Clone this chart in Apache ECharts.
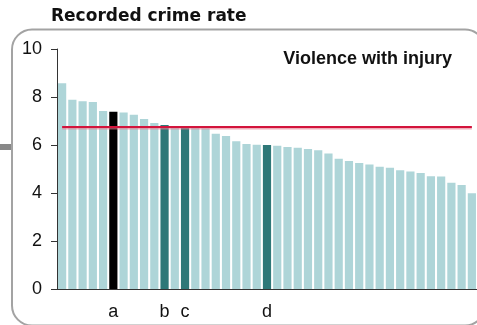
<!DOCTYPE html>
<html>
<head>
<meta charset="utf-8">
<script src="https://cdn.jsdelivr.net/npm/echarts@6/dist/echarts.min.js"></script>
<style>
html,body{margin:0;padding:0;background:#fff;}
#chart{width:477px;height:325px;}
</style>
</head>
<body>
<div id="chart"></div>
<script>
// ---- data ----
const categories = ['1','2','3','4','5','6','7','8','9','10','11','12','13','14','15','16','17','18','19','20','21',
  '22','23','24','25','26','27','28','29','30','31','32','33','34','35','36','37','38','39','40','41'];
const tickLabels = ['','','','','','a','','','','','b','','c','','','','','','','','d',
  '','','','','','','','','','','','','','','','','','','',''];
const rates = [8.57,7.89,7.82,7.79,7.42,7.39,7.35,7.26,7.08,6.92,6.83,6.72,6.72,6.71,6.70,6.47,6.38,6.16,6.04,6.01,6.00,
  5.97,5.92,5.89,5.83,5.78,5.65,5.43,5.33,5.25,5.19,5.09,5.05,4.95,4.90,4.83,4.70,4.69,4.43,4.33,3.99];
const averageRate = 6.76;
const blackBars = [5];
const tealBars = [10,12,20];
const yTicks = [0,2,4,6,8,10];
const chartTitle = 'Recorded crime rate';
const panelTitle = 'Violence with injury';

const barData = rates.map((v,i)=>({
  value: v,
  itemStyle: {color: blackBars.includes(i) ? '#000000' : (tealBars.includes(i) ? '#2e7878' : '#aed5d8')}
}));

const chart = echarts.init(document.getElementById('chart'), null, {renderer:'canvas'});
chart.setOption({
  animation: false,
  grid: {left: 57, right: -4, top: 49, bottom: 36, containLabel: false},
  xAxis: {
    type: 'category',
    data: categories,
    axisLine: {show: true, lineStyle: {color: '#333', width: 1}},
    axisTick: {show: false},
    axisLabel: {
      interval: 0, margin: 14,
      formatter: (v, i) => tickLabels[i],
      fontFamily: 'Liberation Sans, Arial, sans-serif', fontSize: 18, color: '#111', lineHeight: 18
    },
    splitLine: {show: false}
  },
  yAxis: {
    type: 'value', min: 0, max: 10, interval: 2,
    axisLine: {show: true, lineStyle: {color: '#333', width: 1}},
    axisTick: {show: true, length: 6, lineStyle: {color: '#333'}},
    axisLabel: {
      margin: 15,
      formatter: v => yTicks.includes(v) ? String(v) : '',
      fontFamily: 'Liberation Sans, Arial, sans-serif', fontSize: 18, color: '#111'
    },
    splitLine: {show: false}
  },
  series: [{
    type: 'bar',
    data: barData,
    barCategoryGap: '20%',
    markLine: {
      silent: true,
      symbol: 'none',
      label: {show: false},
      lineStyle: {color: '#d3143c', width: 2, type: 'solid',
        shadowColor: 'rgba(230,120,140,0.6)', shadowOffsetY: 1.5, shadowBlur: 0},
      data: [[{coord: [0, averageRate]}, {coord: [rates.length - 1, averageRate]}]]
    }
  }],
  graphic: [
    {type: 'rect', shape: {x: 12, y: 29.5, width: 473, height: 296, r: 20},
      style: {fill: 'none', stroke: '#a3a3a3', lineWidth: 2}, z: 0},
    {type: 'rect', shape: {x: 0, y: 144, width: 11, height: 6},
      style: {fill: '#888888'}, z: 1},
    {type: 'text', x: 51, y: 16.5,
      style: {text: chartTitle, fill: '#111', font: 'bold 17px "DejaVu Sans", sans-serif',
        textAlign: 'left', textVerticalAlign: 'middle', verticalAlign: 'middle'}, z: 10},
    {type: 'text', x: 452, y: 59.5,
      style: {text: panelTitle, fill: '#111', font: 'bold 18px "Liberation Sans", Arial, sans-serif',
        textAlign: 'right', align: 'right', textVerticalAlign: 'middle', verticalAlign: 'middle'}, z: 10}
  ]
});
</script>
</body>
</html>
